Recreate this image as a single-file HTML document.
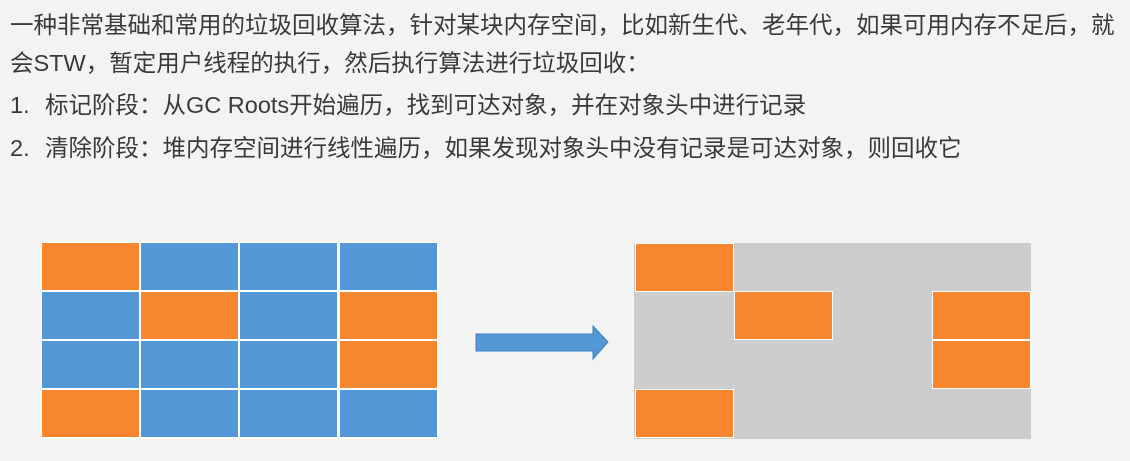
<!DOCTYPE html>
<html><head><meta charset="utf-8"><style>
body{margin:0;width:1130px;height:461px;background:#f3f3f3;position:relative;overflow:hidden;font-family:"Liberation Sans","Noto Sans CJK SC",sans-serif;color:#3a3a3a}
.t{position:absolute;left:10px;font-size:23.5px;white-space:nowrap;line-height:30px}
.n{position:absolute;left:10px}
.c{position:absolute;width:97px;height:47px}
.o{background:#f7862e}.b{background:#5497d6}
</style></head><body>
<div class="t" style="top:10px">一种非常基础和常用的垃圾回收算法，针对某块内存空间，比如新生代、老年代，如果可用内存不足后，就</div>
<div class="t" style="top:48px">会STW，暂定用户线程的执行，然后执行算法进行垃圾回收：</div>
<div class="t" style="top:90px;left:10px">1.</div><div class="t" style="top:90px;left:45px">标记阶段：从GC Roots开始遍历，找到可达对象，并在对象头中进行记录</div>
<div class="t" style="top:133px;left:10px">2.</div><div class="t" style="top:133px;left:45px">清除阶段：堆内存空间进行线性遍历，如果发现对象头中没有记录是可达对象，则回收它</div>
<div style="position:absolute;left:41px;top:242px;width:398px;height:197px;background:#fff"></div>
<div class="c o" style="left:42px;top:243px"></div><div class="c b" style="left:141px;top:243px"></div><div class="c b" style="left:240px;top:243px"></div><div class="c b" style="left:340px;top:243px"></div>
<div class="c b" style="left:42px;top:292px"></div><div class="c o" style="left:141px;top:292px"></div><div class="c b" style="left:240px;top:292px"></div><div class="c o" style="left:340px;top:292px"></div>
<div class="c b" style="left:42px;top:341px"></div><div class="c b" style="left:141px;top:341px"></div><div class="c b" style="left:240px;top:341px"></div><div class="c o" style="left:340px;top:341px"></div>
<div class="c o" style="left:42px;top:390px"></div><div class="c b" style="left:141px;top:390px"></div><div class="c b" style="left:240px;top:390px"></div><div class="c b" style="left:340px;top:390px"></div>
<svg style="position:absolute;left:0;top:0" width="1130" height="461"><polygon points="476,334 593,334 593,326 608,342 593,359 593,351 476,351" fill="#5497d6" stroke="#3f7fc0" stroke-width="1"/></svg>
<div style="position:absolute;left:634px;top:243px;width:397px;height:196px;background:#cdcdcd"></div>
<div class="c o" style="left:636px;top:244px;outline:1px solid #fff"></div>
<div class="c o" style="left:735px;top:292px;outline:1px solid #fff"></div>
<div class="c o" style="left:933px;top:292px;outline:1px solid #fff"></div>
<div class="c o" style="left:933px;top:341px;outline:1px solid #fff"></div>
<div class="c o" style="left:636px;top:390px;outline:1px solid #fff"></div>
</body></html>
